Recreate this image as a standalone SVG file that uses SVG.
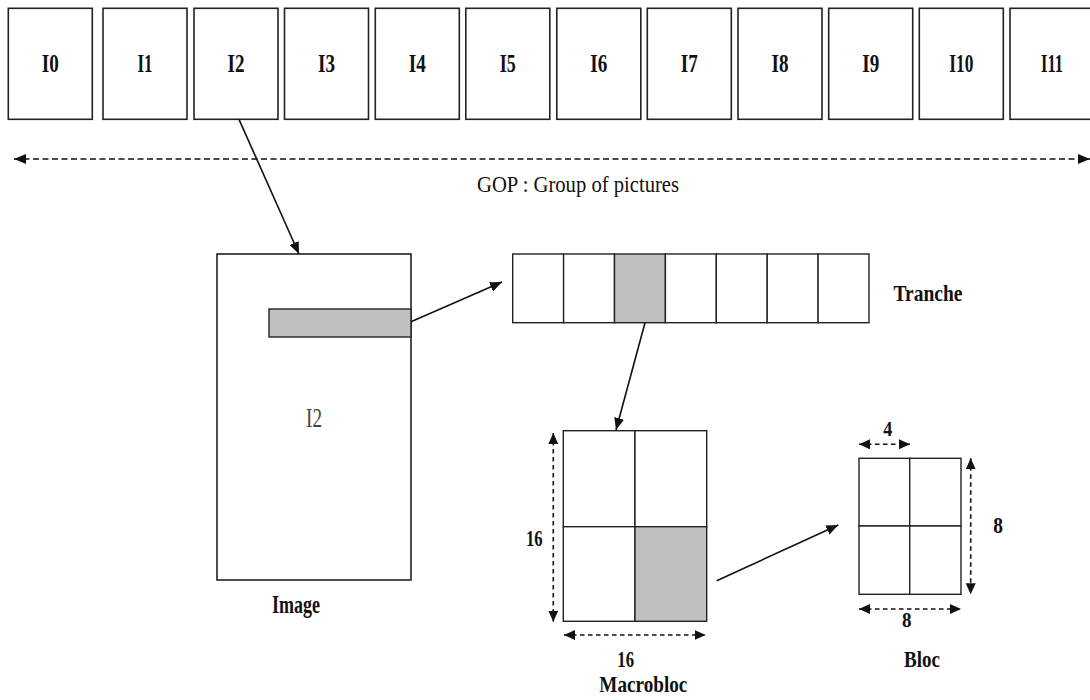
<svg xmlns="http://www.w3.org/2000/svg" width="1090" height="700" viewBox="0 0 1090 700">
<style>
.box{fill:#fff;stroke:#222;stroke-width:1.6}
.cell{fill:#fff;stroke:#222;stroke-width:1.4}
.gray{fill:#c0c0c0;stroke:#222;stroke-width:1.4}
.lbl{font-family:"Liberation Serif","DejaVu Serif","Noto Serif",serif;font-weight:bold;fill:#111;text-anchor:middle}
.reg{font-family:"Liberation Serif","DejaVu Serif","Noto Serif",serif;fill:#111;text-anchor:middle}
.fr{font-size:25px}
.con{stroke:#111;stroke-width:1.6;fill:none}
.dash{stroke:#111;stroke-width:1.6;fill:none;stroke-dasharray:6 3.5}
.sdash{stroke:#111;stroke-width:1.6;fill:none;stroke-dasharray:4.5 3.5}
</style>
<defs>
<marker id="ah" markerUnits="userSpaceOnUse" markerWidth="13" markerHeight="11" refX="12" refY="5" orient="auto-start-reverse">
<path d="M0,0 L12,5 L0,10 z" fill="#111"/>
</marker>
<marker id="dh" markerUnits="userSpaceOnUse" markerWidth="12" markerHeight="11" refX="11" refY="5" orient="auto-start-reverse">
<path d="M0,0 L11,5 L0,10 z" fill="#111"/>
</marker>
</defs>
<rect width="1090" height="700" fill="#fff"/>

<g id="gop-frames">
<g id="I0"><rect class="box" x="8.3" y="8.3" width="84" height="111"/><text class="lbl fr" x="50.3" y="71.7" textLength="17" lengthAdjust="spacingAndGlyphs">I0</text></g>
<g id="I1"><rect class="box" x="103" y="8.3" width="84" height="111"/><text class="lbl fr" x="145" y="71.7" textLength="15" lengthAdjust="spacingAndGlyphs">I1</text></g>
<g id="I2"><rect class="box" x="194" y="8.3" width="84" height="111"/><text class="lbl fr" x="236" y="71.7" textLength="17" lengthAdjust="spacingAndGlyphs">I2</text></g>
<g id="I3"><rect class="box" x="284.5" y="8.3" width="84" height="111"/><text class="lbl fr" x="326.5" y="71.7" textLength="17" lengthAdjust="spacingAndGlyphs">I3</text></g>
<g id="I4"><rect class="box" x="375.3" y="8.3" width="84" height="111"/><text class="lbl fr" x="417.3" y="71.7" textLength="17" lengthAdjust="spacingAndGlyphs">I4</text></g>
<g id="I5"><rect class="box" x="465.8" y="8.3" width="84" height="111"/><text class="lbl fr" x="507.8" y="71.7" textLength="16" lengthAdjust="spacingAndGlyphs">I5</text></g>
<g id="I6"><rect class="box" x="556.8" y="8.3" width="84" height="111"/><text class="lbl fr" x="598.8" y="71.7" textLength="17" lengthAdjust="spacingAndGlyphs">I6</text></g>
<g id="I7"><rect class="box" x="647.3" y="8.3" width="84" height="111"/><text class="lbl fr" x="689.3" y="71.7" textLength="17" lengthAdjust="spacingAndGlyphs">I7</text></g>
<g id="I8"><rect class="box" x="738" y="8.3" width="84" height="111"/><text class="lbl fr" x="780" y="71.7" textLength="17" lengthAdjust="spacingAndGlyphs">I8</text></g>
<g id="I9"><rect class="box" x="828.7" y="8.3" width="84" height="111"/><text class="lbl fr" x="870.7" y="71.7" textLength="17" lengthAdjust="spacingAndGlyphs">I9</text></g>
<g id="I10"><rect class="box" x="919.3" y="8.3" width="84" height="111"/><text class="lbl fr" x="961.3" y="71.7" textLength="24" lengthAdjust="spacingAndGlyphs">I10</text></g>
<g id="I11"><rect class="box" x="1010" y="8.3" width="84" height="111"/><text class="lbl fr" x="1052" y="71.7" textLength="22" lengthAdjust="spacingAndGlyphs">I11</text></g>
</g>

<g id="gop-label"><text class="reg" font-size="23.5" x="578" y="191.7" textLength="202" lengthAdjust="spacingAndGlyphs">GOP : Group of pictures</text></g>

<g id="image">
<rect class="box" x="217" y="254" width="194" height="326"/>
<rect class="gray" x="269" y="309" width="142" height="28"/>
<text class="reg" font-size="28" style="fill:#444" x="314" y="426.5" textLength="16" lengthAdjust="spacingAndGlyphs">I2</text>
<text class="lbl" font-size="25" x="296" y="612.5" textLength="48" lengthAdjust="spacingAndGlyphs">Image</text>
</g>

<g id="tranche">
<rect class="cell" x="512.7" y="254" width="50.9" height="68.7"/>
<rect class="cell" x="563.6" y="254" width="50.9" height="68.7"/>
<rect class="gray" x="614.5" y="254" width="50.9" height="68.7"/>
<rect class="cell" x="665.4" y="254" width="50.9" height="68.7"/>
<rect class="cell" x="716.3" y="254" width="50.9" height="68.7"/>
<rect class="cell" x="767.2" y="254" width="50.9" height="68.7"/>
<rect class="cell" x="818.1" y="254" width="50.9" height="68.7"/>
<text class="lbl" font-size="24" x="928" y="301" textLength="69" lengthAdjust="spacingAndGlyphs">Tranche</text>
</g>

<g id="macrobloc">
<rect class="cell" x="563.3" y="430.7" width="71.7" height="96"/>
<rect class="cell" x="635" y="430.7" width="71.7" height="96"/>
<rect class="cell" x="563.3" y="526.7" width="71.7" height="94.6"/>
<rect class="gray" x="635" y="526.7" width="71.7" height="94.6"/>
<text class="lbl" font-size="24" x="534.3" y="546" textLength="16.7" lengthAdjust="spacingAndGlyphs">16</text>
<text class="lbl" font-size="24" x="625.7" y="667.3" textLength="16.7" lengthAdjust="spacingAndGlyphs">16</text>
<text class="lbl" font-size="23" x="643.3" y="691.7" textLength="88" lengthAdjust="spacingAndGlyphs">Macrobloc</text>
</g>

<g id="bloc">
<rect class="cell" x="859" y="458.3" width="50.7" height="67.7"/>
<rect class="cell" x="909.7" y="458.3" width="51.3" height="67.7"/>
<rect class="cell" x="859" y="526" width="50.7" height="68.3"/>
<rect class="cell" x="909.7" y="526" width="51.3" height="68.3"/>
<text class="lbl" font-size="20" x="887.7" y="436" textLength="9" lengthAdjust="spacingAndGlyphs">4</text>
<text class="lbl" font-size="24" x="998" y="532.7" textLength="9.7" lengthAdjust="spacingAndGlyphs">8</text>
<text class="lbl" font-size="22" x="906.7" y="626.7" textLength="9.5" lengthAdjust="spacingAndGlyphs">8</text>
<text class="lbl" font-size="24" x="922" y="667.3" textLength="36" lengthAdjust="spacingAndGlyphs">Bloc</text>
</g>

<g id="connectors">
<line class="dash" x1="14" y1="159" x2="1090" y2="159" marker-start="url(#ah)" marker-end="url(#ah)"/>
<line class="con" x1="239" y1="119.3" x2="299" y2="254" marker-end="url(#ah)"/>
<line class="con" x1="411" y1="321.7" x2="502" y2="282" marker-end="url(#ah)"/>
<line class="con" x1="645" y1="322.7" x2="616" y2="430" marker-end="url(#ah)"/>
<line class="con" x1="716.7" y1="580.7" x2="838.3" y2="525" marker-end="url(#ah)"/>
<line class="sdash" x1="553.3" y1="433" x2="553.3" y2="621.7" marker-start="url(#dh)" marker-end="url(#dh)"/>
<line class="sdash" x1="564" y1="635" x2="705.7" y2="635" marker-start="url(#dh)" marker-end="url(#dh)"/>
<line class="sdash" x1="859" y1="444.3" x2="910" y2="444.3" marker-start="url(#dh)" marker-end="url(#dh)"/>
<line class="sdash" x1="970.7" y1="458.3" x2="970.7" y2="594.3" marker-start="url(#dh)" marker-end="url(#dh)"/>
<line class="sdash" x1="859" y1="609" x2="961" y2="609" marker-start="url(#dh)" marker-end="url(#dh)"/>
</g>
</svg>
